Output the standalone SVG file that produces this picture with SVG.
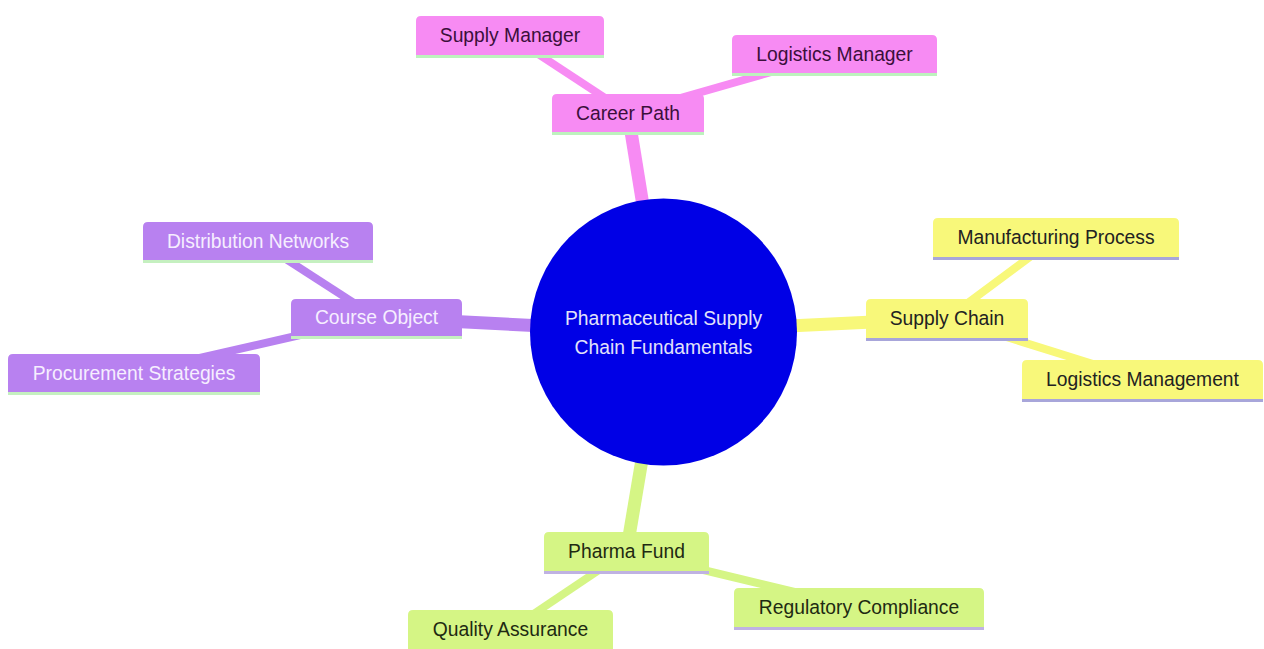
<svg xmlns="http://www.w3.org/2000/svg" width="1264" height="649" viewBox="0 0 1264 649">
<style>
  text { font-family: "Liberation Sans", Arial, sans-serif; font-size: 19.3px; text-anchor: middle; dominant-baseline: central; }
  .e1 { stroke-width: 13; stroke-linecap: butt; fill: none; }
  .e2 { stroke-width: 8; stroke-linecap: butt; fill: none; }
  .pink { stroke: #F78BF3; }
  .purple { stroke: #B881F0; }
  .yellow { stroke: #F8F87A; }
  .green { stroke: #D5F585; }
  .n-pink path { fill: #F78BF3; }
  .n-pink line { stroke: #BDF2BD; stroke-width: 3; }
  .n-pink text { fill: #3B0F3B; }
  .n-purple path { fill: #B881F0; }
  .n-purple line { stroke: #C5F0C0; stroke-width: 3; }
  .n-purple text { fill: #F6EEFF; }
  .n-yellow path { fill: #F8F87A; }
  .n-yellow line { stroke: #A8A6DA; stroke-width: 3; }
  .n-yellow text { fill: #222222; }
  .n-green path { fill: #D5F585; }
  .n-green line { stroke: #BFB2E2; stroke-width: 3; }
  .n-green text { fill: #1E2A12; }
  #root circle { fill: #0000E6; }
  #root text { fill: #E2E2FA; }
</style>
<rect width="1264" height="649" fill="#ffffff"/>
<g id="connectors">
  <line class="e1 pink" x1="663.5" y1="332" x2="628" y2="113"/>
  <line class="e1 purple" x1="663.5" y1="332" x2="376.5" y2="317.5"/>
  <line class="e1 yellow" x1="663.5" y1="332" x2="947" y2="318.5"/>
  <line class="e1 green" x1="663.5" y1="332" x2="626.5" y2="551.5"/>
  <line class="e2 pink" x1="628" y1="113" x2="510" y2="35.5"/>
  <line class="e2 pink" x1="628" y1="113" x2="834.5" y2="54"/>
  <line class="e2 purple" x1="376.5" y1="317.5" x2="258" y2="241"/>
  <line class="e2 purple" x1="376.5" y1="317.5" x2="134" y2="373"/>
  <line class="e2 yellow" x1="947" y1="318.5" x2="1056" y2="237.5"/>
  <line class="e2 yellow" x1="947" y1="318.5" x2="1142.5" y2="379.5"/>
  <line class="e2 green" x1="626.5" y1="551.5" x2="510.5" y2="629.5"/>
  <line class="e2 green" x1="626.5" y1="551.5" x2="859" y2="607.5"/>
</g>
<g id="root">
  <circle cx="663.5" cy="332" r="133.5"/>
  <text x="663.5" y="318.3">Pharmaceutical Supply</text>
  <text x="663.5" y="347.3">Chain Fundamentals</text>
</g>
<g id="career-path" class="n-pink">
  <path d="M552,132 V99 Q552,94 557,94 H699 Q704,94 704,99 V132 Z"/>
  <line x1="552" y1="133.5" x2="704" y2="133.5"/>
  <text x="628" y="113">Career Path</text>
</g>
<g id="supply-manager" class="n-pink">
  <path d="M416,55 V21 Q416,16 421,16 H599 Q604,16 604,21 V55 Z"/>
  <line x1="416" y1="56.5" x2="604" y2="56.5"/>
  <text x="510" y="35.5">Supply Manager</text>
</g>
<g id="logistics-manager" class="n-pink">
  <path d="M732,73 V40 Q732,35 737,35 H932 Q937,35 937,40 V73 Z"/>
  <line x1="732" y1="74.5" x2="937" y2="74.5"/>
  <text x="834.5" y="54">Logistics Manager</text>
</g>
<g id="course-object" class="n-purple">
  <path d="M291,336 V304 Q291,299 296,299 H457 Q462,299 462,304 V336 Z"/>
  <line x1="291" y1="337.5" x2="462" y2="337.5"/>
  <text x="376.5" y="317.5">Course Object</text>
</g>
<g id="distribution-networks" class="n-purple">
  <path d="M143,260 V227 Q143,222 148,222 H368 Q373,222 373,227 V260 Z"/>
  <line x1="143" y1="261.5" x2="373" y2="261.5"/>
  <text x="258" y="241">Distribution Networks</text>
</g>
<g id="procurement-strategies" class="n-purple">
  <path d="M8,392 V359 Q8,354 13,354 H255 Q260,354 260,359 V392 Z"/>
  <line x1="8" y1="393.5" x2="260" y2="393.5"/>
  <text x="134" y="373">Procurement Strategies</text>
</g>
<g id="supply-chain" class="n-yellow">
  <path d="M866,338 V304 Q866,299 871,299 H1023 Q1028,299 1028,304 V338 Z"/>
  <line x1="866" y1="339.5" x2="1028" y2="339.5"/>
  <text x="947" y="318.5">Supply Chain</text>
</g>
<g id="manufacturing-process" class="n-yellow">
  <path d="M933,257 V223 Q933,218 938,218 H1174 Q1179,218 1179,223 V257 Z"/>
  <line x1="933" y1="258.5" x2="1179" y2="258.5"/>
  <text x="1056" y="237.5">Manufacturing Process</text>
</g>
<g id="logistics-management" class="n-yellow">
  <path d="M1022,399 V365 Q1022,360 1027,360 H1258 Q1263,360 1263,365 V399 Z"/>
  <line x1="1022" y1="400.5" x2="1263" y2="400.5"/>
  <text x="1142.5" y="379.5">Logistics Management</text>
</g>
<g id="pharma-fund" class="n-green">
  <path d="M544,571 V537 Q544,532 549,532 H704 Q709,532 709,537 V571 Z"/>
  <line x1="544" y1="572.5" x2="709" y2="572.5"/>
  <text x="626.5" y="551.5">Pharma Fund</text>
</g>
<g id="quality-assurance" class="n-green">
  <path d="M408,649 V615 Q408,610 413,610 H608 Q613,610 613,615 V649 Z"/>
  <line x1="408" y1="650.5" x2="613" y2="650.5"/>
  <text x="510.5" y="629.5">Quality Assurance</text>
</g>
<g id="regulatory-compliance" class="n-green">
  <path d="M734,627 V593 Q734,588 739,588 H979 Q984,588 984,593 V627 Z"/>
  <line x1="734" y1="628.5" x2="984" y2="628.5"/>
  <text x="859" y="607.5">Regulatory Compliance</text>
</g>
</svg>
